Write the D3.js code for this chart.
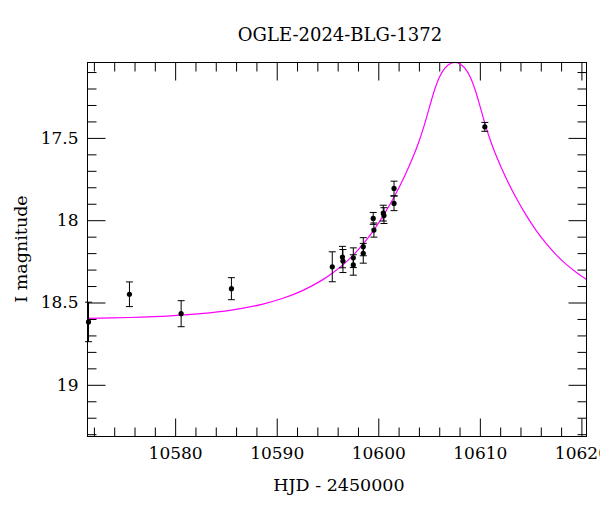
<!DOCTYPE html>
<html><head><meta charset="utf-8">
<script src="https://cdn.jsdelivr.net/npm/d3@7"></script>
<style>
html,body{margin:0;padding:0;background:#fff;}
svg text{font-family:"DejaVu Serif",serif;fill:#000;}
</style></head>
<body><svg id="c" width="600" height="512"></svg>
<script>
// ---- data ----
const title = "OGLE-2024-BLG-1372";
const xLabel = "HJD - 2450000";
const yLabel = "I magnitude";
const xDomain = [10571.37, 10620.5];
const yDomain = [19.314, 17.042];
const xMajorTicks = [10580, 10590, 10600, 10610, 10620];
const yMajorTicks = [17.5, 18, 18.5, 19];
const yTickLabels = ["17.5", "18", "18.5", "19"];

// observations
const obsHJD = [10571.47, 10575.50, 10580.59, 10585.54, 10595.47, 10596.47, 10596.52, 10597.54, 10597.54,
                10598.52, 10598.52, 10599.50, 10599.57, 10600.49, 10600.56, 10601.55, 10601.55, 10610.49];
const obsMag = [18.618, 18.450, 18.568, 18.416, 18.283, 18.224, 18.248, 18.228, 18.272,
                18.161, 18.201, 17.989, 18.060, 17.957, 17.972, 17.807, 17.898, 17.433];
const obsErr = [0.120, 0.075, 0.079, 0.067, 0.091, 0.065, 0.070, 0.060, 0.062,
                0.055, 0.060, 0.036, 0.043, 0.048, 0.048, 0.044, 0.044, 0.027];

// model curve (traced points)
const modelHJD = [10571.37, 10575.54, 10579.54, 10582.54, 10585.54, 10588.54, 10590.54, 10592.54, 10594.54,
                  10595.54, 10596.54, 10597.54, 10598.54, 10599.54, 10600.54, 10601.54, 10602.54, 10603.54,
                  10604.04, 10604.54, 10605.04, 10605.54, 10606.04, 10606.54, 10607.04, 10607.54,
                  10608.04, 10608.54, 10609.04, 10609.54, 10610.04, 10610.54, 10611.04, 10611.54,
                  10612.54, 10613.54, 10614.54, 10615.54, 10616.54, 10617.54, 10618.54, 10619.54, 10620.54];
const modelMag = [18.597, 18.591, 18.581, 18.568, 18.546, 18.511, 18.476, 18.428, 18.361,
                  18.319, 18.270, 18.212, 18.143, 18.062, 17.968, 17.861, 17.739, 17.598,
                  17.516, 17.421, 17.313, 17.209, 17.129, 17.078, 17.051, 17.042,
                  17.051, 17.078, 17.129, 17.209, 17.313, 17.421, 17.516, 17.598,
                  17.739, 17.861, 17.968, 18.062, 18.143, 18.212, 18.270, 18.319, 18.361];

// ---- drawing ----
const L = 87.5, R = 586.5, T = 62.5, B = 436.5;
const svg = d3.select("#c");
const x = d3.scaleLinear().domain(xDomain).range([L, R]);
const y = d3.scaleLinear().domain(yDomain).range([B, T]);

const xMinor = d3.range(10572, 10621, 2).filter(v => !xMajorTicks.includes(v));
const yMinor = d3.range(171, 194).map(v => v / 10).filter(v => !yMajorTicks.includes(v) && v >= yDomain[1] && v <= yDomain[0]);

const clipId = "plotclip";
svg.append("clipPath").attr("id", clipId).append("rect")
  .attr("x", L).attr("y", T).attr("width", R - L).attr("height", B - T);

function styleAxis(g) {
  g.select(".domain").remove();
  g.selectAll(".tick line").attr("stroke", "#000").attr("stroke-width", 1);
  g.selectAll("text").style("font-family", '"DejaVu Serif",serif').style("font-size", "17px").attr("fill", "#000");
}
// bottom
svg.append("g").attr("transform", `translate(0,${B})`)
  .call(d3.axisBottom(x).tickValues(xMajorTicks).tickSize(-18).tickPadding(10).tickFormat(d3.format("d")))
  .call(styleAxis);
svg.append("g").attr("transform", `translate(0,${B})`)
  .call(d3.axisBottom(x).tickValues(xMinor).tickSize(-9).tickFormat(""))
  .call(styleAxis);
// top
svg.append("g").attr("transform", `translate(0,${T})`)
  .call(d3.axisTop(x).tickValues(xMajorTicks).tickSize(-18).tickFormat(""))
  .call(styleAxis);
svg.append("g").attr("transform", `translate(0,${T})`)
  .call(d3.axisTop(x).tickValues(xMinor).tickSize(-9).tickFormat(""))
  .call(styleAxis);
// left
svg.append("g").attr("transform", `translate(${L},0)`)
  .call(d3.axisLeft(y).tickValues(yMajorTicks).tickSize(-18).tickPadding(9).tickFormat((d, i) => yTickLabels[i]))
  .call(styleAxis);
svg.append("g").attr("transform", `translate(${L},0)`)
  .call(d3.axisLeft(y).tickValues(yMinor).tickSize(-9).tickFormat(""))
  .call(styleAxis);
// right
svg.append("g").attr("transform", `translate(${R},0)`)
  .call(d3.axisRight(y).tickValues(yMajorTicks).tickSize(-18).tickFormat(""))
  .call(styleAxis);
svg.append("g").attr("transform", `translate(${R},0)`)
  .call(d3.axisRight(y).tickValues(yMinor).tickSize(-9).tickFormat(""))
  .call(styleAxis);

// model curve
const modelData = modelHJD.map((t, i) => [t, modelMag[i]]);
svg.append("path").datum(modelData)
  .attr("clip-path", `url(#${clipId})`)
  .attr("fill", "none").attr("stroke", "#ff00ff").attr("stroke-width", 1.2)
  .attr("d", d3.line().x(d => x(d[0])).y(d => y(d[1])).curve(d3.curveCatmullRom.alpha(0.5)));

// observations
const obs = obsHJD.map((t, i) => ({t, m: obsMag[i], e: obsErr[i]}));
const og = svg.append("g");
const eg = og.selectAll("g.err").data(obs).join("g").attr("class", "err");
eg.append("line").attr("x1", d => x(d.t)).attr("x2", d => x(d.t))
  .attr("y1", d => y(d.m - d.e)).attr("y2", d => y(d.m + d.e)).attr("stroke", "#000").attr("stroke-width", 1);
eg.append("line").attr("x1", d => x(d.t) - 3.5).attr("x2", d => x(d.t) + 3.5)
  .attr("y1", d => y(d.m - d.e)).attr("y2", d => y(d.m - d.e)).attr("stroke", "#000").attr("stroke-width", 1);
eg.append("line").attr("x1", d => x(d.t) - 3.5).attr("x2", d => x(d.t) + 3.5)
  .attr("y1", d => y(d.m + d.e)).attr("y2", d => y(d.m + d.e)).attr("stroke", "#000").attr("stroke-width", 1);
og.selectAll("circle").data(obs).join("circle")
  .attr("cx", d => x(d.t)).attr("cy", d => y(d.m)).attr("r", 2.6).attr("fill", "#000");

// frame
svg.append("rect").attr("x", L).attr("y", T).attr("width", R - L).attr("height", B - T)
  .attr("fill", "none").attr("stroke", "#000").attr("stroke-width", 1);

// labels
svg.append("text").attr("x", 340).attr("y", 41).attr("text-anchor", "middle")
  .style("font-size", "18px").text(title);
svg.append("text").attr("x", 339).attr("y", 491).attr("text-anchor", "middle")
  .style("font-size", "17.5px").text(xLabel);
svg.append("text").attr("transform", "translate(27,249) rotate(-90)").attr("text-anchor", "middle")
  .style("font-size", "17.5px").text(yLabel);
</script></body></html>
